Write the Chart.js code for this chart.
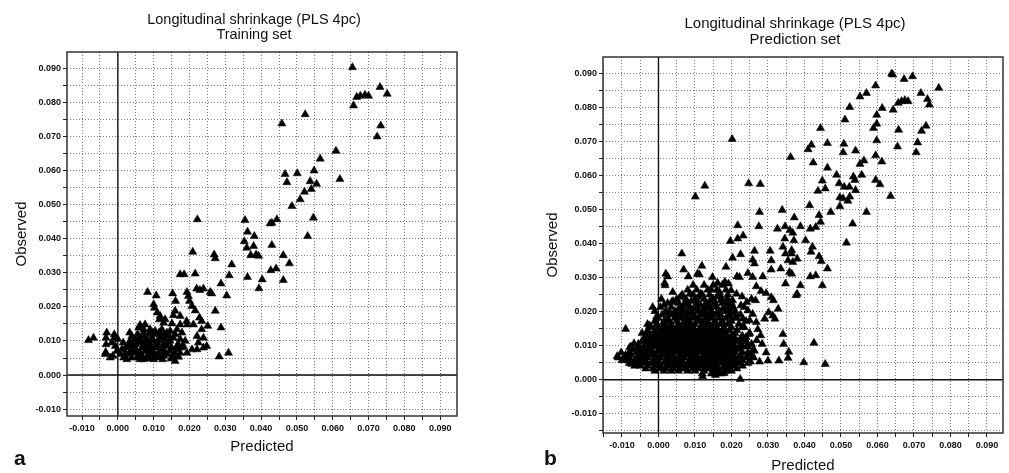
<!DOCTYPE html>
<html>
<head>
<meta charset="utf-8">
<script src="https://cdn.jsdelivr.net/npm/chart.js@4.4.1/dist/chart.umd.min.js"></script>
<style>
  html, body { margin: 0; padding: 0; background: #fff; }
  body { width: 1009px; height: 473px; position: relative; overflow: hidden; font-family: "Liberation Sans", Arial, sans-serif; }
  canvas { position: absolute; top: 0; }
  .title { position: absolute; width: 400px; text-align: center; color: #111; }
  .panel { position: absolute; font-weight: bold; font-size: 21px; color: #111; }
</style>
</head>
<body>
<canvas id="trainChart" width="500" height="473" style="left:0"></canvas>
<canvas id="predChart" width="509" height="473" style="left:500px"></canvas>
<div class="title" style="left:54px;top:12px;font-size:14.5px;line-height:15px">Longitudinal shrinkage (PLS 4pc)<br>Training set</div>
<div class="title" style="left:595px;top:15px;font-size:15px;line-height:16px">Longitudinal shrinkage (PLS 4pc)<br>Prediction set</div>
<div class="panel" style="left:14px;top:446px">a</div>
<div class="panel" style="left:544px;top:446px">b</div>
<script>
// all point values below are in units of 0.001 ([predicted, observed])

// panel a: training set
const trainPoints = [
  [65.5,90.2],[73.2,84.4],[75.2,82.4],[65.8,79.0],[66.7,81.5],[67.7,81.8],[69.0,82.1],[70.0,81.8],[52.3,76.4],[45.8,73.7],
  [73.4,73.1],[72.4,69.9],[60.9,65.7],[56.5,63.4],[46.7,58.9],[50.1,59.1],[54.8,59.9],[47.2,56.5],[53.7,56.8],[55.5,56.0],
  [54.0,54.5],[52.1,53.7],[62.0,57.4],[50.9,51.5],[48.6,49.5],[54.6,46.1],[53.0,40.7],[35.5,45.4],[36.2,42.0],[22.2,45.6],
  [44.4,45.6],[43.0,44.6],[42.5,44.4],[35.3,39.2],[38.1,40.7],[37.9,37.8],[36.0,37.3],[37.1,35.1],[38.6,35.3],[39.3,34.9],
  [43.0,38.1],[20.9,36.1],[26.9,35.3],[27.2,34.2],[31.8,32.4],[46.2,35.1],[47.9,32.7],[44.2,31.2],[42.7,30.7],[17.4,29.5],
  [18.5,29.5],[21.6,29.7],[31.1,29.2],[36.2,28.7],[40.3,28.0],[46.2,27.8],[28.8,26.8],[39.4,25.4],[22.0,25.3],[22.9,24.9],
  [23.9,25.3],[25.8,24.3],[26.2,23.9],[30.4,23.3],[8.3,24.3],[10.7,23.3],[15.3,23.9],[19.3,24.3],[19.7,23.1],[16.1,21.7],
  [10.0,20.7],[20.0,21.7],[20.7,20.2],[21.6,18.9],[27.2,18.8],[10.2,19.7],[11.0,18.3],[11.8,17.3],[13.2,16.3],[16.0,18.8],
  [15.5,17.5],[17.4,17.3],[19.2,15.8],[22.8,16.8],[23.4,15.8],[21.1,14.8],[19.4,14.8],[17.4,14.8],[15.1,15.1],[12.8,15.3],
  [11.6,16.3],[25.1,14.4],[28.8,13.9],[23.4,13.4],[7.6,14.8],[6.2,14.6],[9.0,13.4],[10.4,12.9],[12.3,13.4],[14.6,12.9],
  [16.5,13.4],[17.9,12.4],[22.1,11.4],[23.9,10.9],[22.5,9.5],[20.7,7.5],[22.1,7.5],[23.9,8.0],[24.8,8.5],[28.3,5.4],
  [30.9,6.5],[16.0,4.1],[19.3,6.5],[18.3,8.5],[17.4,10.5],[-3.1,12.4],[-3.3,10.9],[-3.3,9.0],[-3.4,6.7],[-3.5,6.1],
  [-8.2,10.2],[-6.8,10.9],[-1.0,11.9],[-1.0,10.9],[-1.7,9.5],[-2.1,5.1],[-1.4,5.6],[-0.7,8.5],[-0.3,7.0],[0.7,6.1],
  [1.6,5.1],[2.5,4.6],[3.3,12.4],[3.9,11.4],[3.4,10.0],[4.4,8.5],[5.3,7.0],[6.7,5.6],[8.1,5.1],[10.0,4.6],
  [5.8,13.9],[7.2,12.4],[8.1,10.5],[9.0,9.0],[10.4,8.0],[11.3,6.5],[12.3,7.5],[13.7,8.5],[14.6,7.0],[15.5,5.6],
  [16.5,7.5],[16.9,9.0],[11.8,11.4],[13.2,10.5],[14.6,10.0],[15.5,10.9],[5.8,9.5],[6.7,8.0],[7.6,7.0],[8.6,6.5],
  [9.5,7.5],[10.9,9.5],[12.8,5.6],[13.7,6.1],[4.8,10.5],[2.1,6.5],[3.0,6.1],[3.9,5.1],[5.3,5.1],[6.2,4.6],
  [7.2,4.6],[9.0,4.8],[1.1,7.5],[2.1,8.0],[7.2,13.4],[8.6,11.9],[9.5,10.9],[10.4,11.9],[11.3,10.0],[12.8,9.0],
  [16.0,11.9],[18.8,10.0],[10.0,6.5],[11.8,5.1],[7.6,8.5],[6.2,6.5],[4.8,6.5],[3.9,7.5],[3.0,8.5],[17.4,6.5],
  [13.7,12.4],[12.8,11.9],[4.0,6.8],[5.0,9.0],[6.0,11.0],[6.8,10.0],[7.5,9.5],[8.0,8.0],[8.8,7.2],[9.2,6.0],
  [10.5,5.5],[11.0,8.5],[12.0,10.8],[13.0,7.0],[14.0,9.5],[15.0,8.0],[15.8,6.5],[16.5,8.5],[10.0,10.0],[8.5,9.5],
  [7.0,11.5],[9.5,12.5],[11.5,12.5],[14.2,11.5],[17.8,8.0],[5.5,12.0],[3.5,9.2],[12.5,4.6],[14.8,4.8],[17.0,5.3],
  [1.5,9.5],[0.0,10.5]
];

// panel b: prediction set, the scattered points
const predPoints = [
  [63.9,89.8],[64.2,89.5],[67.3,88.2],[69.6,89.0],[59.5,86.3],[76.8,85.6],[57.0,84.1],[55.2,83.1],[71.9,84.1],[73.7,82.3],
  [74.2,80.7],[65.7,81.2],[66.6,81.7],[67.5,82.0],[68.4,81.7],[64.3,79.2],[61.3,79.7],[52.4,80.0],[59.8,77.7],[51.1,76.3],
  [59.8,75.1],[58.9,73.8],[65.8,73.3],[44.4,73.8],[73.3,74.5],[72.1,73.0],[59.8,70.2],[71.0,69.6],[41.9,68.9],[41.0,67.6],
  [50.8,69.2],[50.6,66.7],[54.0,67.2],[46.3,69.4],[65.5,68.4],[70.6,66.7],[59.5,65.8],[36.2,65.3],[61.2,64.0],[42.4,63.7],
  [56.3,64.3],[55.2,63.3],[46.3,62.2],[63.6,53.9],[48.8,60.1],[55.7,60.1],[44.9,58.4],[49.5,57.6],[53.4,59.6],[53.8,58.6],
  [59.5,58.6],[60.7,57.3],[45.7,56.1],[43.7,55.4],[50.9,56.6],[52.3,56.6],[54.0,55.6],[52.4,53.7],[49.7,53.5],[50.6,53.2],
  [51.9,52.5],[49.7,50.9],[41.4,51.2],[57.0,49.2],[47.2,49.2],[10.1,53.7],[12.7,56.9],[20.2,70.6],[24.7,57.6],[27.9,57.4],
  [27.7,49.2],[33.9,49.8],[44.0,48.3],[37.2,47.6],[53.2,45.8],[44.4,46.3],[27.5,45.0],[32.6,44.3],[34.7,45.0],[36.0,43.9],
  [36.8,43.1],[38.9,45.0],[21.7,45.3],[23.2,42.3],[21.7,41.4],[19.7,40.7],[34.6,41.4],[37.1,40.9],[40.3,40.9],[41.6,44.3],
  [43.1,44.8],[51.5,40.2],[42.2,39.0],[41.8,37.5],[34.1,39.0],[36.5,38.0],[34.8,37.0],[36.5,37.0],[35.5,35.0],[36.8,34.5],
  [38.0,35.5],[30.6,37.8],[26.3,37.8],[20.3,35.8],[22.5,36.8],[25.8,35.2],[26.3,34.1],[30.9,35.0],[44.0,36.2],[44.6,34.8],
  [46.3,32.6],[33.5,32.6],[35.9,31.6],[36.5,31.1],[30.9,32.3],[41.6,30.3],[43.1,30.6],[38.9,27.7],[34.8,28.2],[38.0,25.2],
  [37.7,24.8],[44.9,27.7],[6.4,37.0],[2.0,31.1],[2.5,30.3],[1.7,28.4],[1.8,27.7],[3.9,25.7],[6.9,32.3],[8.2,30.3],
  [11.9,33.4],[10.7,31.1],[11.2,30.9],[14.8,30.1],[16.2,28.4],[18.2,28.7],[19.2,28.2],[22.2,30.1],[21.5,30.3],[24.5,31.3],
  [25.8,30.1],[28.6,30.3],[18.5,33.1],[26.8,27.4],[28.1,26.0],[29.5,25.4],[30.9,24.2],[31.5,23.3],[30.2,19.8],[31.3,18.8],
  [32.8,20.8],[31.9,17.9],[29.1,17.9],[26.8,16.9],[34.1,13.4],[34.3,10.5],[35.7,8.2],[35.5,6.4],[33.0,5.6],[39.8,5.1],
  [42.6,10.8],[45.7,4.6],[28.0,13.0],[28.4,10.5],[29.5,8.0],[27.7,5.3],[30.0,5.6],[25.2,5.3],[26.3,8.5],[22.4,0.2],
  [24.0,12.5],[24.5,10.5],[22.2,5.1],[20.3,7.6],[-9.0,6.6],[-11.3,6.9],[-9.0,14.9],[-7.9,9.5],[-6.7,10.7],[-7.3,4.6],
  [-6.0,9.0],[-5.3,7.6],[-3.9,5.6],[-3.5,9.5],[-2.1,12.5],[-2.4,15.9],[-1.6,21.3],[-0.5,18.5],[0.8,23.7],[3.6,22.8],
  [2.0,19.8],[1.6,16.9],[4.8,18.8],[6.1,20.8],[7.8,22.8],[8.6,25.2],[10.3,23.7],[11.6,25.2],[13.0,22.3],[14.4,26.4],
  [14.8,23.7],[16.7,25.7],[17.1,23.3],[19.9,26.2],[20.3,23.3],[21.4,25.2],[22.9,24.4],[24.2,22.8],[25.5,23.7],[26.6,23.3],
  [19.4,20.3],[22.6,21.8],[24.5,20.3],[25.8,19.3],[21.3,18.4],[23.1,17.9],[25.0,17.4],[22.9,15.4],[24.8,13.4],[23.8,11.5],
  [12.1,1.0],[15.6,1.4],[18.0,1.9],[26.9,11.6],[27.2,14.8],[25.9,6.9],[-10.2,8.0]
];

// panel b: the dense cluster near the origin, read row by row (observed level, predicted values)
const predDenseY = [1.8, 2.6, 3.3, 4.1, 4.9, 5.7, 6.5, 7.3, 8.1, 8.9, 9.7, 10.5, 11.3, 12.1, 12.9, 13.7,
  14.5, 15.4, 16.3, 17.2, 18.1, 19.1, 20.1, 21.3, 22.5, 23.7, 25.0, 26.4, 27.8,
  18.6, 19.6, 20.7, 21.9, 23.1, 24.3];
const predDenseX = [
  [12, 14.5, 17],
  [-1, 1.5, 3.5, 5.5, 8, 10, 12.5, 15, 16.5, 18.5, 20],
  [-3.5, -1.5, 0.5, 2, 4, 6, 7.5, 9.5, 11, 13, 14, 15.5, 17.5, 19, 21.5],
  [-6.5, -5, -3, -1, 0.5, 2.5, 4, 5.5, 7, 8.5, 10, 11.5, 13, 14.5, 16, 18, 19.5, 21, 23],
  [-8, -7, -5.5, -4, -2, -0.5, 1.5, 3, 4.5, 6.5, 8, 9.5, 11, 12.5, 14, 15.5, 17, 18.5, 20.5, 22, 24.5],
  [-10, -8.5, -6.5, -5, -3.5, -1.5, 0, 2, 3.5, 5, 6.5, 8.5, 10, 11.5, 13, 14.5, 16, 18, 19.5, 21, 23],
  [-11, -9.5, -8, -6, -4.5, -3, -1, 0.5, 2.5, 4, 5.5, 7, 9, 10.5, 12, 13.5, 15, 17, 18.5, 20, 22, 24, 26],
  [-9, -7.5, -5.5, -4, -2.5, -1, 1, 2.5, 4, 6, 7.5, 9, 10.5, 12.5, 14, 15.5, 17, 18.5, 20.5, 22.5, 25],
  [-8, -6, -4.5, -3, -1.5, 0, 1.5, 3.5, 5, 6.5, 8, 10, 11.5, 13, 14.5, 16, 17.5, 19.5, 21, 23, 24.5],
  [-7, -5, -3.5, -2, 0, 1.5, 3, 4.5, 6, 7.5, 9, 10.5, 12, 13.5, 15.5, 17, 18.5, 20, 22, 26],
  [-7.5, -5.5, -4, -2.5, -1, 0.5, 2, 4, 5.5, 7, 8.5, 10, 11.5, 13, 14.5, 16, 17.5, 19, 21, 23, 24.5],
  [-5.5, -3.5, -2, -0.5, 1, 2.5, 4, 5.5, 7, 8.5, 10, 11.5, 13, 14.5, 16, 17.5, 19, 20.5, 22.5, 25.5],
  [-4.5, -3, -1.5, 0.5, 2, 3.5, 5, 6.5, 8, 9.5, 11, 12.5, 14, 15.5, 17, 18.5, 20, 21.5, 24],
  [-4, -2, -0.5, 1, 2.5, 4, 5.5, 7, 8.5, 10, 11.5, 13, 14.5, 16, 17.5, 19, 21, 22.5],
  [-3.5, -1.5, 0, 1.5, 3, 4.5, 6, 7.5, 9, 10.5, 12, 13.5, 15, 16.5, 18, 20, 23],
  [-4.5, -2.5, -1, 0.5, 2, 3.5, 5, 6.5, 8, 9.5, 11, 12.5, 14, 15.5, 17, 18.5, 21, 25],
  [-3, -1, 1, 2.5, 4, 5.5, 7, 8.5, 10, 11.5, 13, 14.5, 16, 17.5, 19.5, 21.5],
  [-2, 0, 2, 3.5, 5, 6.5, 8, 9.5, 11.5, 13, 14.5, 16, 18, 20, 23.5],
  [-3, -0.5, 1.5, 3.5, 5.5, 7, 8.5, 10, 12, 13.5, 15, 17, 19, 22],
  [-1, 1.5, 3, 5, 7, 8.5, 10.5, 12, 13.5, 15.5, 17.5, 20, 24],
  [0, 2.5, 4.5, 6.5, 8, 9.5, 11, 13, 14.5, 16.5, 18.5, 21],
  [1, 3.5, 6, 7.5, 9.5, 11.5, 13, 15, 17, 19.5, 22.5],
  [-1, 2, 4.5, 7, 9, 11, 12.5, 14.5, 16.5, 18.5, 21],
  [0.5, 3.5, 6.5, 8.5, 10.5, 12.5, 14, 16, 18.5, 20.5, 23.5],
  [2.5, 5.5, 8, 10.5, 13, 15.5, 17.5, 20],
  [5, 7.5, 10, 12.5, 15, 17.5, 19],
  [6.5, 9.5, 12, 14, 16.5, 19],
  [8, 10.5, 13.5, 16, 18.5],
  [9.5, 12.5, 15, 17.5],
  [5.5, 10, 14, 19.5],
  [3, 8, 12, 16, 20],
  [5.5, 9.5, 13.5, 17.5],
  [1.5, 7, 11.5, 15, 19],
  [4, 9, 14, 18.5],
  [6, 11, 16]
];

const FONT = '"Liberation Sans", Arial, sans-serif';

function toXY(pairs) {
  return pairs.map(p => ({ x: p[0] / 1000, y: p[1] / 1000 }));
}

function denseToXY(levels, rows) {
  const out = [];
  levels.forEach((y, i) => rows[i].forEach(x => out.push({ x: x / 1000, y: y / 1000 })));
  return out;
}

// zero lines and plot frame
const framePlugin = {
  id: 'frame',
  beforeDatasetsDraw(chart) {
    const { ctx, chartArea: a, scales: { x, y } } = chart;
    const x0 = x.getPixelForValue(0);
    const y0 = y.getPixelForValue(0);
    ctx.save();
    ctx.strokeStyle = '#111';
    ctx.lineWidth = 1.4;
    ctx.beginPath();
    ctx.moveTo(x0, a.top); ctx.lineTo(x0, a.bottom);
    ctx.moveTo(a.left, y0); ctx.lineTo(a.right, y0);
    ctx.stroke();
    ctx.strokeStyle = '#333';
    ctx.lineWidth = 1.5;
    ctx.strokeRect(a.left, a.top, a.width, a.height);
    ctx.restore();
  }
};

function tickLabel(v) {
  const m = Math.round(v * 1000);
  return m % 10 === 0 ? (m / 1000).toFixed(3) : '';
}

function axis(cfg) {
  return {
    type: 'linear',
    min: cfg.min,
    max: cfg.max,
    afterFit: cfg.afterFit,
    border: { display: false, dash: [1, 2] },
    grid: { color: '#7a7a7a', lineWidth: 1, tickColor: '#222', tickLength: 4 },
    ticks: {
      stepSize: 0.005,
      includeBounds: false,
      autoSkip: false,
      maxRotation: 0,
      padding: cfg.tickPad,
      color: '#111',
      font: { family: FONT, size: 9, weight: 'bold' },
      callback: tickLabel
    },
    title: {
      display: true,
      text: cfg.title,
      color: '#111',
      font: { family: FONT, size: 15 },
      padding: cfg.titlePad
    }
  };
}

function makeChart(id, points, layout) {
  return new Chart(document.getElementById(id), {
    type: 'scatter',
    data: {
      datasets: [{
        data: points,
        pointStyle: 'triangle',
        pointRadius: 4.7,
        backgroundColor: '#000',
        borderColor: '#000',
        borderWidth: 0.5
      }]
    },
    options: {
      responsive: false,
      animation: false,
      devicePixelRatio: 1,
      layout: { padding: layout.padding },
      plugins: { legend: { display: false }, tooltip: { enabled: false } },
      scales: {
        x: axis({ min: layout.xMin, max: layout.xMax, title: 'Predicted', tickPad: 3,
          titlePad: { top: 0, bottom: layout.xTitlePad },
          afterFit: s => { s.height = layout.xHeight; } }),
        y: axis({ min: layout.yMin, max: layout.yMax, title: 'Observed', tickPad: 2,
          titlePad: { top: layout.yTitlePad, bottom: 0 },
          afterFit: s => { s.width = layout.yWidth; } })
      }
    },
    plugins: [framePlugin]
  });
}

makeChart('trainChart', toXY(trainPoints), {
  padding: { top: 52, right: 43, left: 0, bottom: 0 },
  xMin: -0.0142, xMax: 0.0947, yMin: -0.0120, yMax: 0.0947,
  xHeight: 57, yWidth: 67, xTitlePad: 17, yTitlePad: 13
});

makeChart('predChart', toXY(predPoints).concat(denseToXY(predDenseY, predDenseX)), {
  padding: { top: 57, right: 6, left: 0, bottom: 0 },
  xMin: -0.0152, xMax: 0.0944, yMin: -0.0156, yMax: 0.0947,
  xHeight: 40, yWidth: 103, xTitlePad: -2, yTitlePad: 44
});
</script>
</body>
</html>
